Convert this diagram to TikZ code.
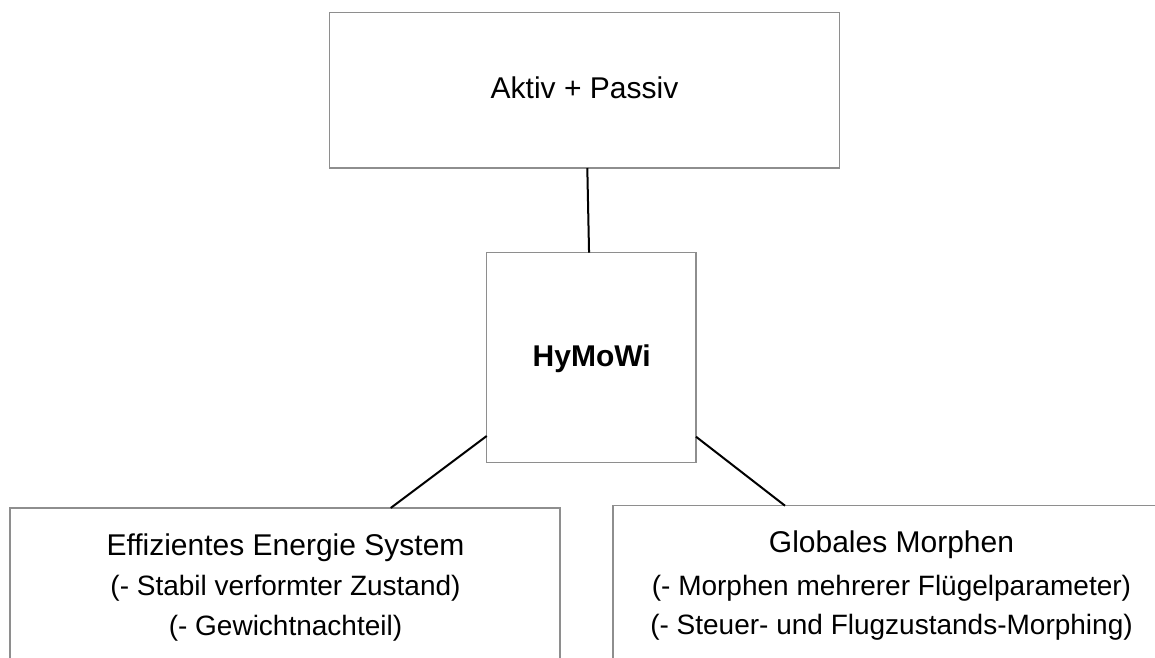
\documentclass[tikz,border=0pt]{standalone}
\usepackage{fontspec}
\setmainfont{Liberation Sans}
\tikzset{
  x=1pt, y=1pt,
  boxnode/.style={draw=boxgray, line width=1.4pt, fill=white, inner sep=0pt, outer sep=0pt},
  link/.style={draw=black, line width=2pt},
  head/.style={anchor=base, inner sep=0pt, font=\fontsize{30}{36}\selectfont},
  sub/.style={anchor=base, inner sep=0pt, font=\fontsize{28}{34}\selectfont},
}
\definecolor{boxgray}{HTML}{8E8E8E}
\begin{document}
\begin{tikzpicture}
\useasboundingbox (0,0) rectangle (1155,-657);
\clip (0,0) rectangle (1155,-657);
\fill[white] (0,0) rectangle (1155,-657);
% boxes
\node[boxnode, minimum width=510pt, minimum height=155.7pt] (top) at (584.5,-90.15) {};
\node[boxnode, minimum width=209.3pt, minimum height=210pt] (mid) at (591.35,-357.7) {};
\node[boxnode, minimum width=550pt, minimum height=172pt] (left) at (285,-594) {};
\node[boxnode, minimum width=557pt, minimum height=174.3pt] (right) at (891.5,-592.85) {};
% connectors
\draw[link] ([xshift=2.8pt]top.south) -- ([xshift=-2.3pt]mid.north);
\draw[link] ([yshift=-78.3pt]mid.west) -- ([xshift=105.7pt]left.north);
\draw[link] ([yshift=-79pt]mid.east) -- ([xshift=-106.5pt]right.north);
% texts
\node[head] (ttop) at (584.5,-98.7) {Aktiv + Passiv};
\node[head, font=\fontsize{30}{36}\selectfont\bfseries] (tmid) at (591.7,-366) {HyMoWi};
\node[head] (tl1) at (285.5,-555) {Effizientes Energie System};
\node[sub] (tl2) at (285.5,-595.7) {(- Stabil verformter Zustand)};
\node[sub] (tl3) at (285.5,-635) {(- Gewichtnachteil)};
\node[head] (tr1) at (891.5,-552.5) {Globales Morphen};
\node[sub] (tr2) at (891.5,-595) {(- Morphen mehrerer Flügelparameter)};
\node[sub] (tr3) at (891.5,-634) {(- Steuer- und Flugzustands-Morphing)};
\end{tikzpicture}
\end{document}
